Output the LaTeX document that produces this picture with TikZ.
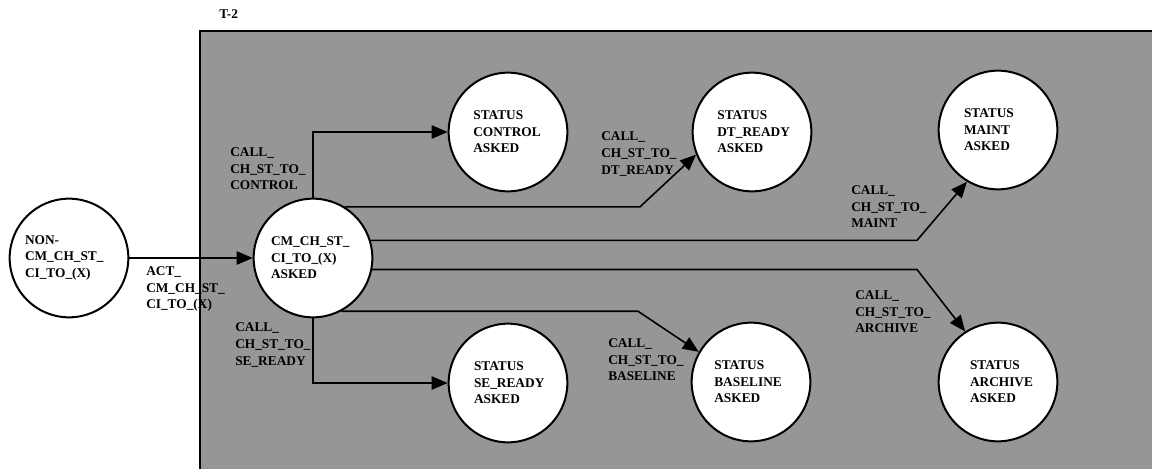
\documentclass[tikz,border=0pt]{standalone}
\usepackage{fontspec}
\setmainfont{Liberation Serif}
\usetikzlibrary{arrows.meta}
\definecolor{boxgray}{RGB}{150,150,150}
\tikzset{
	state/.style={circle, draw, fill=white, line width=1.5pt, minimum size=89pt, inner sep=0pt,
		text width=52pt, align=left, font=\fontsize{10pt}{12.4pt}\selectfont\bfseries},
	lab/.style={inner sep=0pt, anchor=west, align=left, font=\fontsize{10pt}{12.4pt}\selectfont\bfseries},
	conn/.style={line width=1.2pt},
	arr/.style={conn, -{Triangle[length=12pt,width=10pt]}}
}

\begin{document}
\begin{tikzpicture}[x=0.75pt,y=-0.75pt]
	\useasboundingbox (0,0) rectangle (1152,468);
	\clip (0,0) rectangle (1152,468);
	% region T-2
	\draw[line width=1.5pt, fill=boxgray] (200,31) rectangle (1170,490);
	\node[lab] (t2) at (219,14) {T-2};
	% states
	\node[state, text width=66pt] (non) at (69,258) {NON-\\CM\_CH\_ST\_\\CI\_TO\_(X)};
	\node[state, text width=63pt] (cm) at (313,258) {CM\_CH\_ST\_\\CI\_TO\_(X)\\ASKED};
	\node[state] (ctrl) at (508,132) {STATUS\\CONTROL\\ASKED};
	\node[state] (dt) at (752,132) {STATUS\\DT\_READY\\ASKED};
	\node[state, text width=51pt] (maint) at (998,130) {STATUS\\MAINT\\ASKED};
	\node[state, text width=51pt] (se) at (508,383) {STATUS\\SE\_READY\\ASKED};
	\node[state, text width=55pt] (base) at (751,382) {STATUS\\BASELINE\\ASKED};
	\node[state, text width=42pt] (arch) at (998,382) {STATUS\\ARCHIVE\\ASKED};
	% bends
	\coordinate (jdt) at (640,207);
	\coordinate (jmaint) at (917,240);
	\coordinate (jarch) at (917,269);
	\coordinate (jbase) at (638,311);
	% transitions
	\draw[arr] (non) -- (cm);
	\draw[arr] (cm.north) |- (ctrl.west);
	\draw[arr] (cm.south) |- (se.west);
	\draw[arr] (cm.58) -- (cm.58 -| jdt) -- (dt.202);
	\draw[arr] (cm.17) -- (cm.17 -| jmaint) -- (maint.239);
	\draw[arr] (cm.349) -- (cm.349 -| jarch) -- (arch.123);
	\draw[arr] (cm.298) -- (cm.298 -| jbase) -- (base.150);
	% labels
	\node[lab] (lact) at (146,289) {ACT\_\\CM\_CH\_ST\_\\CI\_TO\_(X)};
	\node[lab] (lctrl) at (230,169) {CALL\_\\CH\_ST\_TO\_\\CONTROL};
	\node[lab] (lse) at (235,345) {CALL\_\\CH\_ST\_TO\_\\SE\_READY};
	\node[lab] (ldt) at (601,154) {CALL\_\\CH\_ST\_TO\_\\DT\_READY};
	\node[lab] (lbase) at (608,360) {CALL\_\\CH\_ST\_TO\_\\BASELINE};
	\node[lab] (lmaint) at (851,207) {CALL\_\\CH\_ST\_TO\_\\MAINT};
	\node[lab] (larch) at (855,312) {CALL\_\\CH\_ST\_TO\_\\ARCHIVE};
\end{tikzpicture}
\end{document}
